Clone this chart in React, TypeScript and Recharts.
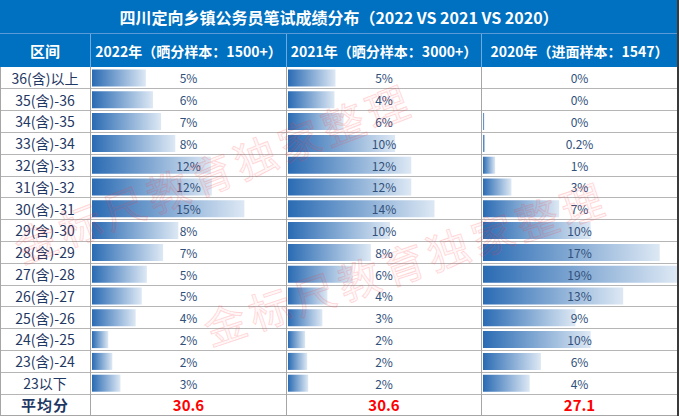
import { BarChart, Bar, XAxis, YAxis } from 'recharts';

const rangeLabels = [
    '36(含)以上', '35(含)-36', '34(含)-35', '33(含)-34', '32(含)-33',
    '31(含)-32', '30(含)-31', '29(含)-30', '28(含)-29', '27(含)-28',
    '26(含)-27', '25(含)-26', '24(含)-25', '23(含)-24', '23以下',
];

// bar lengths (labels are rounded separately)
const values2022 = [5.3, 6.0, 6.8, 8.2, 11.7, 11.8, 15.0, 8.5, 7.0, 5.4, 4.9, 4.3, 1.6, 2.0, 2.8];
const labels2022 = ['5%', '6%', '7%', '8%', '12%', '12%', '15%', '8%', '7%', '5%', '5%', '4%', '2%', '2%', '3%'];

const values2021 = [4.7, 4.6, 5.5, 10.6, 12.2, 12.2, 14.5, 10.1, 8.2, 6.4, 3.9, 3.4, 1.7, 1.9, 2.0];
const labels2021 = ['5%', '4%', '6%', '10%', '12%', '12%', '14%', '10%', '8%', '6%', '4%', '3%', '2%', '2%', '2%'];

const values2020 = [0, 0, 0.15, 0.2, 1.2, 2.8, 7.5, 10.6, 17.4, 19.1, 13.8, 9.1, 10.6, 5.7, 4.6];
const labels2020 = ['0%', '0%', '0%', '0.2%', '1%', '3%', '7%', '10%', '17%', '19%', '13%', '9%', '10%', '6%', '4%'];

const headers = ['2022年（晒分样本：1500+）', '2021年（晒分样本：3000+）', '2020年（进面样本：1547）'];
const averages = ['30.6', '30.6', '27.1'];
const title = '四川定向乡镇公务员笔试成绩分布（2022 VS 2021 VS 2020）';
const watermark = '金标尺教育独家整理';

const FONT = '"Noto Sans CJK SC", "Noto Sans", sans-serif';
const BLUE = '#0070C0';
const TITLE_H = 34;
const HEAD_H = 33;
const DATA_TOP = TITLE_H + HEAD_H;
const ROW_H = 21.8;
const DATA_H = ROW_H * rangeLabels.length;
const AVG_TOP = DATA_TOP + DATA_H;
const BOTTOM = 415;
const TOTAL_W = 678;
const colLines = [90, 286, 481, 677];
const MAX = 19.1;

function ColumnChart({ values, labels, left, width, gid }: any) {
    const data = values.map((v: number, i: number) => ({ name: rangeLabels[i], value: v }));
    return (
        <div style={{ position: 'absolute', left, top: DATA_TOP }}>
            <BarChart
                layout="vertical"
                width={width}
                height={DATA_H}
                data={data}
                margin={{ top: 0, right: 0, bottom: 0, left: 0 }}
                barCategoryGap={2.5}
            >
                <defs>
                    <linearGradient id={gid} x1="0" y1="0" x2="1" y2="0">
                        <stop offset="0%" stopColor="#2A6BB3" />
                        <stop offset="100%" stopColor="#DDE8F4" />
                    </linearGradient>
                </defs>
                <XAxis type="number" domain={[0, MAX]} hide />
                <Bar dataKey="value" fill={`url(#${gid})`} isAnimationActive={false} />
                {/* value labels drawn as category ticks so empty rows keep theirs */}
                <YAxis
                    type="category"
                    dataKey="name"
                    width={1}
                    axisLine={false}
                    tickLine={false}
                    interval={0}
                    tick={(p: any) => {
                        const idx = rangeLabels.indexOf(p.payload?.value);
                        return (
                            <text
                                x={width / 2}
                                y={p.y}
                                textAnchor="middle"
                                dominantBaseline="central"
                                fontSize={12}
                                fontFamily={FONT}
                                fill="#31507A"
                            >
                                {labels[idx]}
                            </text>
                        );
                    }}
                />
            </BarChart>
        </div>
    );
}

export default function App() {
    const cols = [
        { values: values2022, labels: labels2022 },
        { values: values2021, labels: labels2021 },
        { values: values2020, labels: labels2020 },
    ];

    return (
        <div
            style={{
                position: 'absolute',
                left: 0,
                top: 0,
                width: 679,
                height: 416,
                background: '#fff',
                fontFamily: FONT,
                overflow: 'hidden',
            }}
        >
            {/* title */}
            <div
                style={{
                    position: 'absolute', left: 0, top: 0, width: TOTAL_W, height: TITLE_H,
                    background: BLUE, color: '#fff', fontWeight: 700, fontSize: 16,
                    display: 'flex', alignItems: 'center', justifyContent: 'center', whiteSpace: 'nowrap',
                }}
            >
                {title}
            </div>
            <div style={{ position: 'absolute', left: 0, top: TITLE_H - 1, width: TOTAL_W, height: 1, background: '#5A9AD6' }} />

            {/* header row */}
            <div style={{ position: 'absolute', left: 0, top: TITLE_H, width: TOTAL_W, height: HEAD_H, background: BLUE }} />
            {['区间', ...headers].map((h, i) => {
                const l = i === 0 ? 0 : colLines[i - 1] + 1;
                const r = colLines[i];
                return (
                    <div
                        key={h}
                        style={{
                            position: 'absolute', left: l, top: TITLE_H, width: r - l, height: HEAD_H,
                            color: '#fff', fontWeight: 700, fontSize: i === 0 ? 15 : 14,
                            display: 'flex', alignItems: 'center', justifyContent: 'center', whiteSpace: 'nowrap',
                        }}
                    >
                        {h}
                    </div>
                );
            })}

            {/* row lines */}
            {rangeLabels.map((_, i) => (
                <div
                    key={'rl' + i}
                    style={{ position: 'absolute', left: 0, top: DATA_TOP + (i + 1) * ROW_H - 0.5, width: TOTAL_W, height: 1, background: '#B5B5B5' }}
                />
            ))}
            <div style={{ position: 'absolute', left: 0, top: BOTTOM, width: TOTAL_W, height: 1, background: '#A6A6A6' }} />

            {/* column lines */}
            {colLines.slice(0, 3).map((x) => (
                <div key={'hc' + x} style={{ position: 'absolute', left: x, top: TITLE_H, width: 1, height: HEAD_H, background: '#6FA8DC' }} />
            ))}
            {colLines.slice(0, 3).map((x) => (
                <div key={'dc' + x} style={{ position: 'absolute', left: x, top: DATA_TOP, width: 1, height: BOTTOM - DATA_TOP, background: '#A6A6A6' }} />
            ))}
            <div style={{ position: 'absolute', left: 0, top: DATA_TOP, width: 1, height: BOTTOM - DATA_TOP, background: '#A6A6A6' }} />
            <div style={{ position: 'absolute', left: 677, top: 0, width: 1.5, height: 416, background: '#3A3A3A' }} />

            {/* range labels */}
            {rangeLabels.map((r, i) => (
                <div
                    key={r}
                    style={{
                        position: 'absolute', left: 0, top: DATA_TOP + i * ROW_H, width: 90, height: ROW_H,
                        color: '#1F3864', fontSize: 14, display: 'flex', alignItems: 'center', justifyContent: 'center',
                        whiteSpace: 'nowrap',
                    }}
                >
                    {r}
                </div>
            ))}

            {/* bars */}
            {cols.map((c, i) => (
                <ColumnChart
                    key={'c' + i}
                    values={c.values}
                    labels={c.labels}
                    left={colLines[i] + 1}
                    width={colLines[i + 1] - colLines[i] - 1}
                    gid={'grad' + i}
                />
            ))}

            {/* average row */}
            <div
                style={{
                    position: 'absolute', left: 0, top: AVG_TOP, width: 90, height: BOTTOM - AVG_TOP,
                    color: '#1F3864', fontSize: 15, fontWeight: 700, letterSpacing: 1,
                    display: 'flex', alignItems: 'center', justifyContent: 'center',
                }}
            >
                平均分
            </div>
            {averages.map((a, i) => (
                <div
                    key={'avg' + i}
                    style={{
                        position: 'absolute', left: colLines[i] + 1, top: AVG_TOP, width: colLines[i + 1] - colLines[i] - 1,
                        height: BOTTOM - AVG_TOP, color: '#FF0000', fontSize: 15, fontWeight: 700,
                        display: 'flex', alignItems: 'center', justifyContent: 'center',
                    }}
                >
                    {a}
                </div>
            ))}

            {/* watermarks */}
            {[
                { cx: 213, cy: 171, rot: -21 },
                { cx: 405, cy: 261, rot: -18.5 },
            ].map((w, i) => (
                <div
                    key={'wm' + i}
                    style={{
                        position: 'absolute', left: w.cx - 250, top: w.cy - 30, width: 500, height: 60,
                        display: 'flex', alignItems: 'center', justifyContent: 'center',
                        transform: `rotate(${w.rot}deg)`, fontSize: 42, letterSpacing: 5, whiteSpace: 'nowrap',
                        color: 'rgba(255,0,0,0.04)', WebkitTextStroke: '1px rgba(255,60,60,0.2)',
                        pointerEvents: 'none',
                    }}
                >
                    {watermark}
                </div>
            ))}
        </div>
    );
}
